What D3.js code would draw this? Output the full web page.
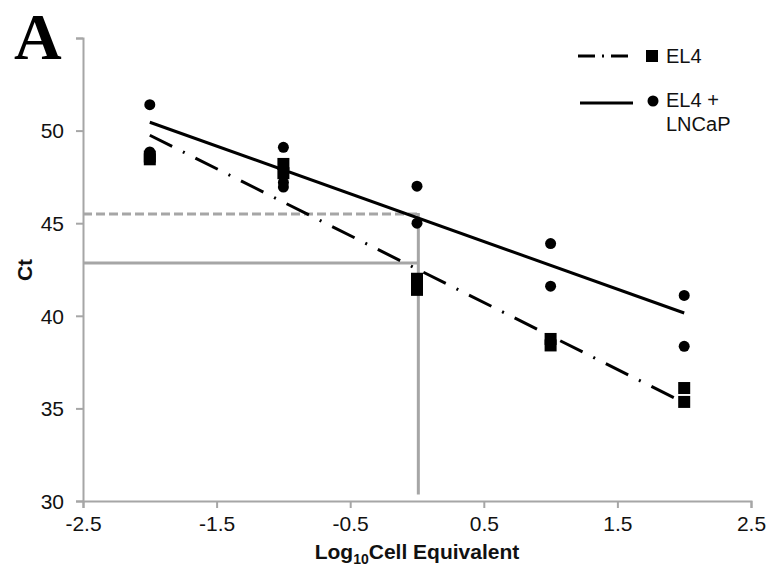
<!DOCTYPE html>
<html>
<head>
<meta charset="utf-8">
<script src="https://cdn.jsdelivr.net/npm/d3@7"></script>
<style>
  body { margin: 0; background: #fff; }
  svg { display: block; font-family: Arial, "Liberation Sans", sans-serif; }
</style>
</head>
<body>
<svg id="chart"></svg>
<script>
// Data
const xTicks = [-2.5, -1.5, -0.5, 0.5, 1.5, 2.5];
const yTicks = [30, 35, 40, 45, 50, 55];

// EL4 alone (squares)
const el4X = [-2, -2, -1, -1, 0, 0, 1, 1, 2, 2];
const el4Ct = [48.6, 48.45, 48.2, 47.7, 42.0, 41.4, 38.75, 38.4, 36.1, 35.35];
const el4Fit = [49.75, 35.3];

// EL4 + LNCaP (circles)
const mixX = [-2, -2, -1, -1, -1, 0, 0, 1, 1, 2, 2];
const mixCt = [51.4, 48.85, 49.1, 47.2, 46.95, 47.0, 45.0, 43.9, 41.6, 41.1, 38.35];
const mixFit = [50.45, 40.15];

const fitX = [-2, 2];

// grey read-off guides
const guideX = 0.01;
const guideMix = 45.5;
const guideEl4 = 42.85;
const guideBottom = 30.35;

function drawChart() {
  const width = 766;
  const height = 575;

  const svg = d3.select("#chart").attr("width", width).attr("height", height);

  const x = d3.scaleLinear().domain([-2.5, 2.5]).range([83, 751]);
  const y = d3.scaleLinear().domain([30, 55]).range([501, 38]);

  const axisColor = "#a6a6a6";

  // Y axis
  const yAxis = svg
    .append("g")
    .attr("transform", `translate(${x(-2.5)},0)`)
    .call(
      d3.axisLeft(y).tickValues(yTicks).tickSize(7).tickPadding(12)
        .tickFormat((d) => (d === 55 ? "" : d))
    );

  // X axis (plain hyphen for negatives, like the original)
  const xAxis = svg
    .append("g")
    .attr("transform", `translate(0,${y(30)})`)
    .call(
      d3.axisBottom(x).tickValues(xTicks).tickSize(7).tickPadding(7)
        .tickFormat((d) => d.toFixed(1))
    );

  [yAxis, xAxis].forEach((ax) => {
    ax.select(".domain").attr("stroke", axisColor).attr("stroke-width", 2);
    ax.selectAll(".tick line").attr("stroke", axisColor).attr("stroke-width", 2);
    ax.selectAll(".tick text")
      .attr("fill", "#111")
      .attr("font-size", "21px")
      .attr("font-family", "Arial, 'Liberation Sans', sans-serif");
  });
  yAxis.selectAll(".tick text").attr("dy", "0.35em");
  xAxis.selectAll(".tick text").attr("dy", "0.78em");

  // Grey guide lines
  svg
    .append("line")
    .attr("x1", x(-2.5))
    .attr("x2", x(guideX))
    .attr("y1", y(guideMix))
    .attr("y2", y(guideMix))
    .attr("stroke", axisColor)
    .attr("stroke-width", 3)
    .attr("stroke-dasharray", "9,4");

  svg
    .append("line")
    .attr("x1", x(-2.5))
    .attr("x2", x(guideX))
    .attr("y1", y(guideEl4))
    .attr("y2", y(guideEl4))
    .attr("stroke", axisColor)
    .attr("stroke-width", 3);

  svg
    .append("line")
    .attr("x1", x(guideX))
    .attr("x2", x(guideX))
    .attr("y1", y(guideMix) - 1)
    .attr("y2", y(guideBottom))
    .attr("stroke", axisColor)
    .attr("stroke-width", 3);

  // Trend lines
  const line = d3
    .line()
    .x((d) => x(d[0]))
    .y((d) => y(d[1]));

  svg
    .append("path")
    .attr("d", line(d3.zip(fitX, mixFit)))
    .attr("fill", "none")
    .attr("stroke", "#000")
    .attr("stroke-width", 3);

  svg
    .append("path")
    .attr("d", line(d3.zip(fitX, el4Fit)))
    .attr("fill", "none")
    .attr("stroke", "#000")
    .attr("stroke-width", 3)
    .attr("stroke-dasharray", "25,12,2,12");

  // Points
  const sq = 12;
  svg
    .append("g")
    .selectAll("rect")
    .data(d3.zip(el4X, el4Ct))
    .enter()
    .append("rect")
    .attr("x", (d) => x(d[0]) - sq / 2)
    .attr("y", (d) => y(d[1]) - sq / 2)
    .attr("width", sq)
    .attr("height", sq)
    .attr("fill", "#000");

  svg
    .append("g")
    .selectAll("circle")
    .data(d3.zip(mixX, mixCt))
    .enter()
    .append("circle")
    .attr("cx", (d) => x(d[0]))
    .attr("cy", (d) => y(d[1]))
    .attr("r", 5.5)
    .attr("fill", "#000");

  // Legend
  const legend = svg.append("g");
  legend
    .append("line")
    .attr("x1", 578).attr("x2", 630)
    .attr("y1", 56).attr("y2", 56)
    .attr("stroke", "#000")
    .attr("stroke-width", 3)
    .attr("stroke-dasharray", "17,7,2,7");
  legend
    .append("rect")
    .attr("x", 646).attr("y", 50)
    .attr("width", 12).attr("height", 12)
    .attr("fill", "#000");
  legend
    .append("text")
    .attr("x", 666).attr("y", 63)
    .attr("font-size", "20px")
    .attr("fill", "#111")
    .text("EL4");

  legend
    .append("line")
    .attr("x1", 580).attr("x2", 633)
    .attr("y1", 103).attr("y2", 103)
    .attr("stroke", "#000")
    .attr("stroke-width", 3);
  legend
    .append("circle")
    .attr("cx", 653).attr("cy", 101)
    .attr("r", 5.5)
    .attr("fill", "#000");
  const lt = legend
    .append("text")
    .attr("x", 666).attr("y", 107)
    .attr("font-size", "20px")
    .attr("fill", "#111");
  lt.append("tspan").attr("x", 666).text("EL4 +");
  lt.append("tspan").attr("x", 666).attr("dy", 24).text("LNCaP");

  // Axis titles
  svg
    .append("text")
    .attr("transform", "translate(32,270) rotate(-90)")
    .attr("text-anchor", "middle")
    .attr("font-size", "21px")
    .attr("font-weight", "bold")
    .attr("fill", "#111")
    .text("Ct");

  const xt = svg
    .append("text")
    .attr("x", 417)
    .attr("y", 559)
    .attr("text-anchor", "middle")
    .attr("font-size", "21px")
    .attr("font-weight", "bold")
    .attr("fill", "#111");
  xt.append("tspan").text("Log");
  xt.append("tspan").attr("font-size", "14px").attr("dy", 5).text("10");
  xt.append("tspan").attr("dy", -5).text("Cell Equivalent");

  // Panel letter
  svg
    .append("text")
    .attr("x", 14)
    .attr("y", 59)
    .attr("font-family", "'Liberation Serif', 'Times New Roman', serif")
    .attr("font-size", "66px")
    .attr("font-weight", "bold")
    .attr("fill", "#000")
    .text("A");
}

drawChart();
</script>
</body>
</html>
